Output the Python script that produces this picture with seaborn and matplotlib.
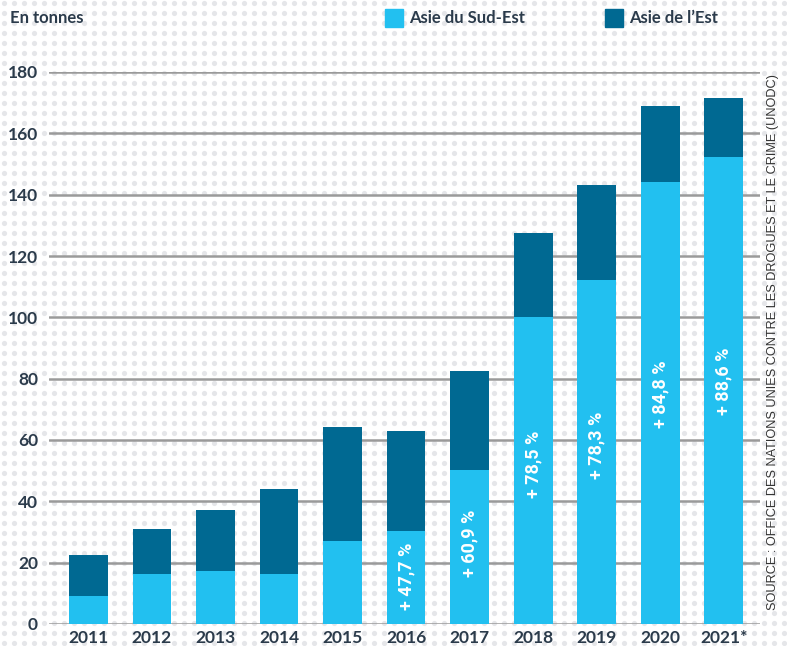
import numpy as np
import pandas as pd
import matplotlib
matplotlib.use("Agg")
import matplotlib.pyplot as plt
from matplotlib.patches import Rectangle
import seaborn as sns

# ---- data ----
years = ["2011", "2012", "2013", "2014", "2015", "2016", "2017", "2018", "2019", "2020", "2021*"]
asie_sud_est = [9.0, 16.3, 17.4, 16.3, 27.1, 30.2, 50.3, 100.0, 112.3, 144.0, 152.4]
asie_est = [13.5, 14.7, 19.8, 27.7, 37.1, 32.7, 32.2, 27.5, 30.8, 24.9, 19.1]
share_labels = ["", "", "", "", "", "+ 47,7 %", "+ 60,9 %", "+ 78,5 %", "+ 78,3 %", "+ 84,8 %", "+ 88,6 %"]
yticks = [0, 20, 40, 60, 80, 100, 120, 140, 160, 180]

LIGHT = "#22C0F0"
DARK = "#006992"
TEXT = "#2B3B4B"

sns.set_theme(style="white")
plt.rcParams["font.family"] = ["Lato", "DejaVu Sans"]

W, H = 787, 646
fig = plt.figure(figsize=(W / 100, H / 100), dpi=100)
fig.patch.set_facecolor("white")

# dotted background
bg = fig.add_axes([0, 0, 1, 1], zorder=0)
bg.set_xlim(0, W)
bg.set_ylim(H, 0)
bg.axis("off")
gx, gy = np.meshgrid(np.arange(4, W, 10), np.arange(3, H, 10))
bg.scatter(gx.ravel(), gy.ravel(), s=14, color="#E5E6E9", linewidths=0)

def fx(px):
    return px / W

def fy(py):
    return 1 - py / H

ax = fig.add_axes([fx(49), fy(624), fx(760) - fx(49), fy(72) - fy(624)], zorder=1)
ax.patch.set_alpha(0)

df = pd.DataFrame({"year": years, "se": asie_sud_est, "e": asie_est})
df["total"] = df["se"] + df["e"]

for y in yticks:
    ax.axhline(y, color="#9A9A9A", lw=1.8, zorder=0.5)

sns.barplot(data=df, x="year", y="total", color=DARK, width=0.61, saturation=1,
            ax=ax, zorder=2, edgecolor="none", linewidth=0)
sns.barplot(data=df, x="year", y="se", color=LIGHT, width=0.61, saturation=1,
            ax=ax, zorder=3, edgecolor="none", linewidth=0)

for i, (lab, v) in enumerate(zip(share_labels, asie_sud_est)):
    if lab:
        ax.text(i, v * 0.52, lab, rotation=90, ha="center", va="center",
                color="white", fontsize=13, fontweight="bold", zorder=4,
                family=["Roboto", "DejaVu Sans"])

ax.set_xlim(-0.62, 10.57)
ax.set_ylim(0, 180)
ax.set_yticks(yticks)
ax.set_yticklabels([str(v) for v in yticks])
ax.set_xlabel("")
ax.set_ylabel("")
for s in ax.spines.values():
    s.set_visible(False)
ax.tick_params(axis="y", length=0, pad=8, labelsize=12.5, labelcolor=TEXT)
ax.tick_params(axis="x", length=0, pad=4, labelsize=12.5, labelcolor=TEXT)
for t in ax.get_xticklabels() + ax.get_yticklabels():
    t.set_fontweight("bold")

# header texts and legend
fig.text(fx(10), fy(18), "En tonnes", ha="left", va="center", fontsize=12,
         fontweight="bold", color=TEXT)
fig.patches.append(Rectangle((fx(385), fy(27)), fx(18), 18 / H, transform=fig.transFigure,
                             color=LIGHT, figure=fig))
fig.text(fx(409), fy(18), "Asie du Sud-Est", ha="left", va="center", fontsize=12,
         fontweight="bold", color=TEXT)
fig.patches.append(Rectangle((fx(605), fy(27)), fx(18), 18 / H, transform=fig.transFigure,
                             color=DARK, figure=fig))
fig.text(fx(629), fy(18), "Asie de l\u2019Est", ha="left", va="center", fontsize=12,
         fontweight="bold", color=TEXT)

fig.text(fx(773), fy(342), "SOURCE : OFFICE DES NATIONS UNIES CONTRE LES DROGUES ET LE CRIME (UNODC)",
         rotation=90, ha="center", va="center", fontsize=9.2, color="#333333",
         family=["Liberation Sans", "DejaVu Sans"])

fig.savefig("out.png", dpi=100, facecolor="white")
